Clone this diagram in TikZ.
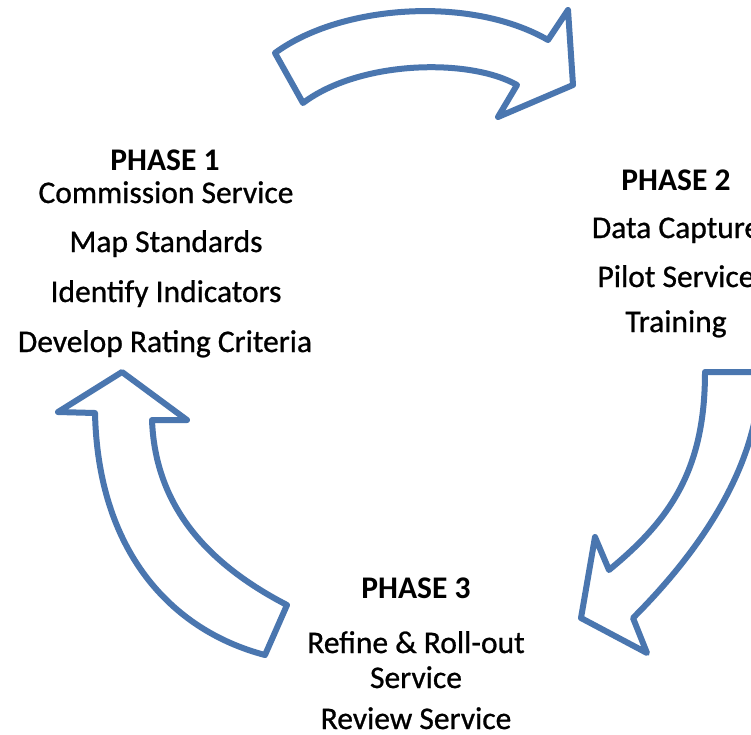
\documentclass[tikz,border=0pt]{standalone}
\usepackage{fontspec}
\setmainfont{Carlito}
\newfontfamily\itemfont{Carlito}[FakeBold=0.8]
\definecolor{arrowblue}{HTML}{4A76AF}
\tikzset{
  bigarrow/.style={draw=arrowblue, line width=6pt, line join=round, fill=white},
  phasehead/.style={anchor=base, font=\fontsize{31.5}{36}\selectfont\bfseries, inner sep=0pt, text=black},
  phaseitem/.style={anchor=base, font=\itemfont\fontsize{31.5}{36}\selectfont, inner sep=0pt, text=black}
}
\begin{document}
\begin{tikzpicture}[x=1pt,y=-1pt]
\useasboundingbox (0,0) rectangle (751,734);
\clip (0,0) rectangle (751,734);
\fill[white] (0,0) rectangle (751,734);

% top arrow (phase 1 -> phase 2)
\coordinate (t1) at (275,53);
\coordinate (t2) at (548,40);
\coordinate (t3) at (568,10);
\coordinate (t4) at (573,85);
\coordinate (t5) at (498,117);
\coordinate (t6) at (517,85);
\coordinate (t7) at (303,103);
\draw[bigarrow] (t1) .. controls (340,5) and (470,-5) .. (t2) -- (t3) -- (t4) -- (t5) -- (t6)
  .. controls (470,58) and (360,60) .. (t7) -- cycle;

% right arrow (phase 2 -> phase 3)
\coordinate (r1) at (705,372);
\coordinate (r2) at (760,372);
\coordinate (r3) at (633,618);
\coordinate (r4) at (647,653);
\coordinate (r5) at (581,618);
\coordinate (r6) at (595,537);
\coordinate (r7) at (609,570);
\draw[bigarrow] (r1) -- (r2) .. controls (760,460) and (706,545) .. (r3) -- (r4) -- (r5) -- (r6) -- (r7)
  .. controls (670,520) and (705,470) .. (r1) -- cycle;

% left arrow (phase 3 -> phase 1)
\coordinate (l1) at (122,372);
\coordinate (l2) at (58,412);
\coordinate (l3) at (95,413);
\coordinate (l4) at (265,655);
\coordinate (l5) at (287,605);
\coordinate (l6) at (152,420);
\coordinate (l7) at (187,420);
\draw[bigarrow] (l1) -- (l2) -- (l3) .. controls (98,550) and (170,630) .. (l4) -- (l5)
  .. controls (200,560) and (155,500) .. (l6) -- (l7) -- cycle;

% phase 1 text
\node[phasehead] (p1h) at (165,170) {PHASE 1};
\node[phaseitem] (p1a) at (166,203) {Commission Service};
\node[phaseitem] (p1b) at (166,252) {Map Standards};
\node[phaseitem] (p1c) at (166,302) {Identify Indicators};
\node[phaseitem] (p1d) at (165,352) {Develop Rating Criteria};

% phase 2 text
\node[phasehead] (p2h) at (676,190) {PHASE 2};
\node[phaseitem] (p2a) at (676,238) {Data Capture};
\node[phaseitem] (p2b) at (676,287) {Pilot Service};
\node[phaseitem] (p2c) at (676,332) {Training};

% phase 3 text
\node[phasehead] (p3h) at (416,598) {PHASE 3};
\node[phaseitem] (p3a) at (416,653) {Refine \& Roll-out};
\node[phaseitem] (p3b) at (416,688) {Service};
\node[phaseitem] (p3c) at (416,729) {Review Service};
\end{tikzpicture}
\end{document}
